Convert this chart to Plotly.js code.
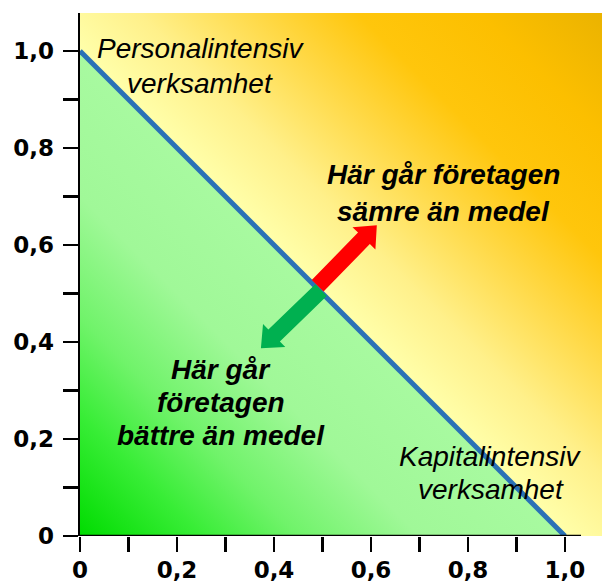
<!DOCTYPE html>
<html>
<head>
<meta charset="utf-8">
<script src="https://cdn.plot.ly/plotly-3.0.1.min.js"></script>
<style>html,body{margin:0;padding:0;background:#fff;}#chart{width:602px;height:586px;}</style>
</head>
<body>
<div id="chart"></div>
<script>
// ---- data ----
const lineX = [0, 1];
const lineY = [1, 0];
const tickVals = [0, 0.1, 0.2, 0.3, 0.4, 0.5, 0.6, 0.7, 0.8, 0.9, 1.0];
const tickText = ['0', '', '0,2', '', '0,4', '', '0,6', '', '0,8', '', '1,0'];
const redArrowX = [0.49, 0.612];
const redArrowY = [0.516, 0.641];
const greenArrowX = [0.497, 0.373];
const greenArrowY = [0.507, 0.387];
const labelText = [
  'Personalintensiv<br>verksamhet',
  'Kapitalintensiv<br>verksamhet',
  'Här går företagen<br>sämre än medel',
  'Här går<br>företagen<br>bättre än medel'
];
const labelX = [0.248, 0.847, 0.75, 0.291];
const labelY = [0.9695, 0.129, 0.707, 0.275];
const labelBold = [false, false, true, true];

// ---- styling ----
const XMAX = 1.0763, YMAX = 1.0784;
const PX = 485; // pixels per data unit (both axes)
const lineGapPx = [35, 33, 37, 33];
const FONT = '"Liberation Sans", Arial, sans-serif';
const TICKFONT = '"DejaVu Sans", "Liberation Sans", Arial, sans-serif';

// background gradient (decoration) built as an SVG image
function bgImage() {
  const W = 1076, H = 1078;
  const D = 2.154; // x+y at far corner
  const stops = [
    [0.00, '#00dc00'], [0.25, '#38ed36'], [0.45, '#70f36a'], [0.70, '#a0f898'], [0.999, '#a8faa0'],
    [1.001, '#ffffaa'], [1.20, '#fff08a'], [1.45, '#ffd844'], [1.65, '#ffc60c'], [1.90, '#fcbf00'], [2.154, '#ebb300']
  ];
  const st = stops.map(s => `<stop offset='${(s[0] / D).toFixed(4)}' stop-color='${s[1]}'/>`).join('');
  const svg = `<svg xmlns='http://www.w3.org/2000/svg' width='${W}' height='${H}' viewBox='0 0 ${W} ${H}' preserveAspectRatio='none'>` +
    `<defs><linearGradient id='g' gradientUnits='userSpaceOnUse' x1='0' y1='${H}' x2='1077' y2='1'>${st}</linearGradient></defs>` +
    `<rect x='0' y='0' width='${W}' height='${H}' fill='url(#g)'/></svg>`;
  return 'data:image/svg+xml;charset=utf-8,' + encodeURIComponent(svg);
}

function arrowPoly(xs, ys, shaftW, headW, headL) {
  const x0 = xs[0], y0 = ys[0], x1 = xs[1], y1 = ys[1];
  const dx = x1 - x0, dy = y1 - y0, L = Math.hypot(dx, dy);
  const ux = dx / L, uy = dy / L, px = -uy, py = ux;
  const bx = x1 - ux * headL, by = y1 - uy * headL;
  const s = shaftW / 2, h = headW / 2;
  const X = [x0 + px * s, bx + px * s, bx + px * h, x1, bx - px * h, bx - px * s, x0 - px * s, x0 + px * s];
  const Y = [y0 + py * s, by + py * s, by + py * h, y1, by - py * h, by - py * s, y0 - py * s, y0 + py * s];
  return {x: X, y: Y};
}

const red = arrowPoly(redArrowX, redArrowY, 0.034, 0.066, 0.038);
const green = arrowPoly(greenArrowX, greenArrowY, 0.034, 0.066, 0.038);

const traces = [
  {x: lineX, y: lineY, mode: 'lines', line: {color: '#2a72b6', width: 5}, hoverinfo: 'skip', showlegend: false},
  {x: green.x, y: green.y, mode: 'lines', fill: 'toself', fillcolor: '#00b050', line: {width: 0, color: '#00b050'}, hoverinfo: 'skip', showlegend: false},
  {x: red.x, y: red.y, mode: 'lines', fill: 'toself', fillcolor: '#ff0000', line: {width: 0, color: '#ff0000'}, hoverinfo: 'skip', showlegend: false}
];

const annotations = [];
labelText.forEach((t, i) => {
  const lines = t.split('<br>');
  const n = lines.length;
  const gap = lineGapPx[i] / PX;
  lines.forEach((ln, k) => {
    annotations.push({
      text: ln, x: labelX[i], y: labelY[i] + ((n - 1) / 2 - k) * gap, xref: 'x', yref: 'y', showarrow: false,
      xanchor: 'center', yanchor: 'middle', align: 'center',
      font: {family: FONT, size: 28, color: '#000', style: 'italic', weight: labelBold[i] ? 'bold' : 'normal'}
    });
  });
});

const axisCommon = {
  tickmode: 'array', tickvals: tickVals, ticktext: tickText,
  ticks: 'outside', ticklen: 15, tickwidth: 2.5, tickcolor: '#000',
  showgrid: false, zeroline: false, fixedrange: true,
  tickfont: {family: TICKFONT, size: 23, color: '#000', weight: 'bold'}
};

const layout = {
  width: 602, height: 586,
  margin: {l: 80, r: 0, t: 13, b: 50, pad: 0},
  paper_bgcolor: '#ffffff', plot_bgcolor: '#ffffff',
  showlegend: false,
  xaxis: Object.assign({}, axisCommon, {range: [0, XMAX], showline: false, ticklabelstandoff: -2}),
  yaxis: Object.assign({}, axisCommon, {range: [0, YMAX], showline: true, linecolor: '#000', linewidth: 2.5, ticklabelstandoff: 4}),
  images: [{source: bgImage(), xref: 'x', yref: 'y', x: 0, y: YMAX, sizex: XMAX, sizey: YMAX,
    sizing: 'stretch', xanchor: 'left', yanchor: 'top', layer: 'below'}],
  shapes: [{type: 'line', xref: 'x', yref: 'y', x0: 0, x1: 1.033, y0: 0, y1: 0, line: {color: '#000', width: 2.5}, layer: 'above'}],
  annotations: annotations
};

Plotly.newPlot('chart', traces, layout, {displayModeBar: false, staticPlot: true});
</script>
</body>
</html>
